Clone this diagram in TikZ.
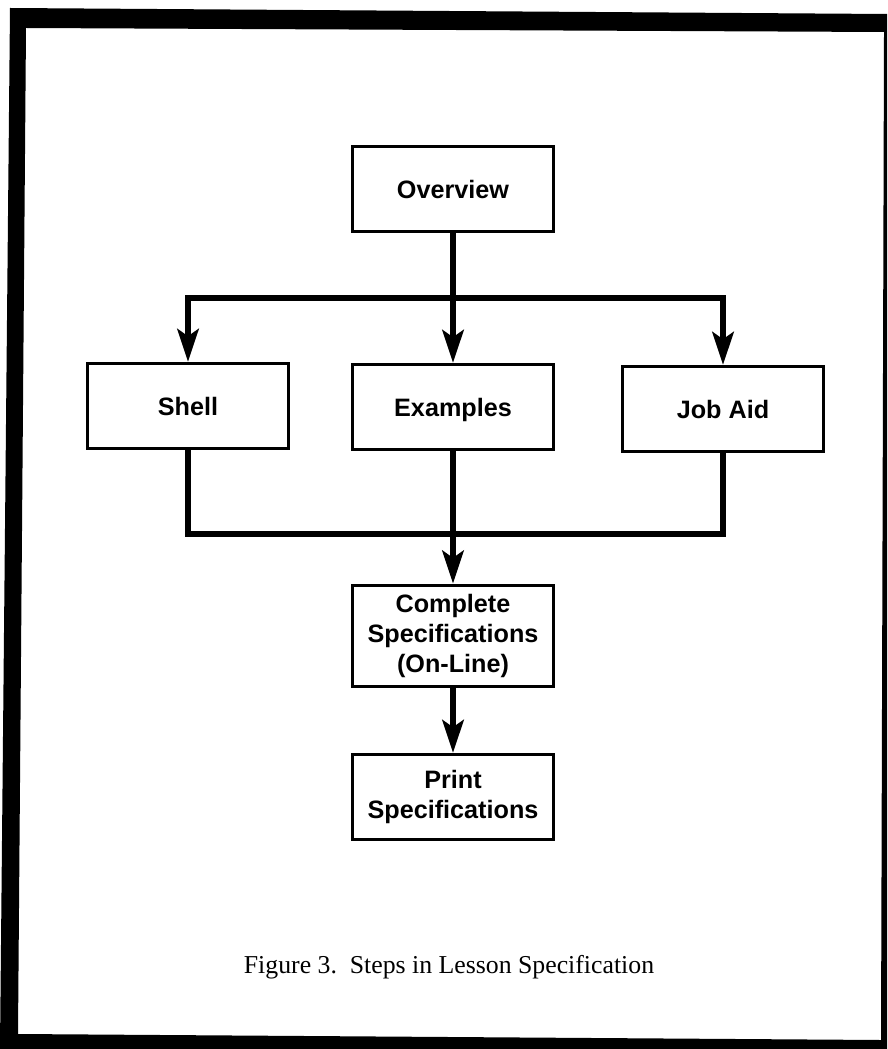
\documentclass[tikz,border=0pt]{standalone}
\usepackage{fontspec}
\setmainfont{Liberation Serif}
\newfontfamily\boxfont{Liberation Sans}
\usetikzlibrary{arrows.meta}
\begin{document}
\begin{tikzpicture}[x=0.03cm, y=-0.03cm, line join=miter, >={Stealth[length=28pt,width=18pt,inset=6pt]},
	stepbox/.style={draw, line width=2.5pt, minimum width=6.05cm, minimum height=2.55cm, align=center, inner sep=2pt, font=\boxfont\bfseries\fontsize{21.5}{25.5}\selectfont},
	oneline/.style={stepbox, text height=15.5pt, text depth=0pt},
	flow/.style={line width=5.5pt}]
			\useasboundingbox (0,0) rectangle (887,1049);
			\fill[even odd rule] (10,8)--(887,14)--(887,1049)--(0,1049)--cycle (26,28)--(884,32)--(881,1040)--(18,1034)--cycle;
			\node[oneline] (overview) at (453,189) {Overview};
			\node[oneline] (shell) at (188,406) {Shell};
			\node[oneline] (examples) at (453,407) {Examples};
			\node[oneline] (jobaid) at (723,409) {Job Aid};
			\node[stepbox, minimum height=3.05cm] (complete) at (453,636) {Complete\\Specifications\\(On-Line)};
			\node[stepbox] (print) at (453,797) {Print\\Specifications};
			\node[font=\fontsize{22}{26}\selectfont] (caption) at (449,967) {Figure 3.\ \ Steps in Lesson Specification};
			\coordinate (split) at (453,298);
			\coordinate (merge) at (453,534);
			\draw[flow,->] (overview)--(examples);
			\foreach \b in {shell,jobaid} \draw[flow,->] (split) -| (\b);
			\foreach \b in {shell,jobaid} \draw[flow] (\b) |- (merge);
			\draw[flow,->] (examples)--(complete);
			\draw[flow,->] (complete)--(print);
		\end{tikzpicture}
\end{document}
